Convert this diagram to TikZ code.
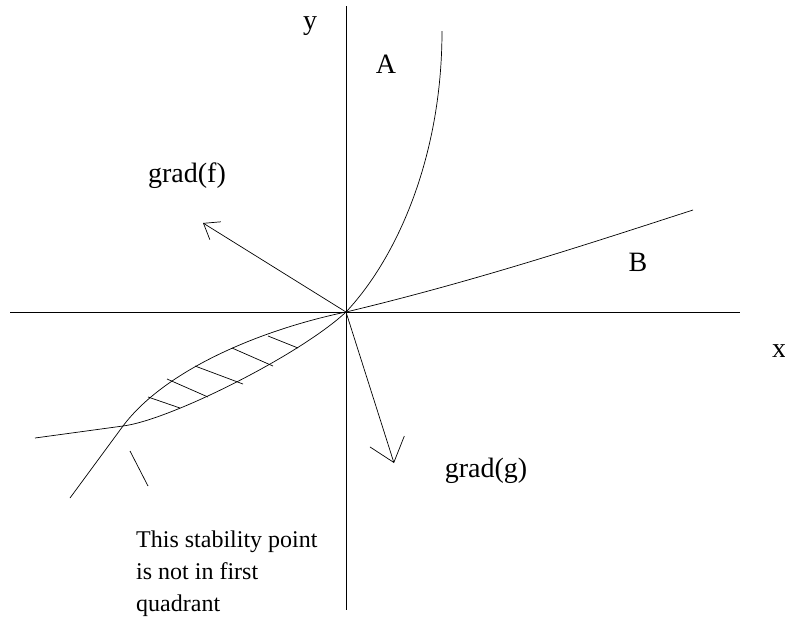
\documentclass[tikz,border=0pt]{standalone}
\usepackage{fontspec}
\setmainfont{Liberation Serif}
\usetikzlibrary{arrows.meta}
\tikzset{
  lbl/.style={font=\fontsize{28}{32}\selectfont, inner sep=0pt, anchor=base},
  para/.style={font=\fontsize{24}{32}\selectfont, inner sep=0pt, anchor=base west, align=left},
  crb/.style={line width=0.7pt},
  grd/.style={line width=0.7pt, -{Straight Barb[length=14pt,width=21pt,line width=0.7pt]}}
}
\begin{document}
\begin{tikzpicture}[x=1pt,y=-1pt]
				\useasboundingbox (0,0) rectangle (785,641);
				%Points du diagramme
				\coordinate (O) at (346,312);
				\coordinate (XL) at (10,312);
				\coordinate (XR) at (740,312);
				\coordinate (YT) at (346,6);
				\coordinate (YB) at (346,610);
				\coordinate (AT) at (442,31);
				\coordinate (BT) at (693,210);
				\coordinate (S) at (123,426);
				\coordinate (AE) at (70,498);
				\coordinate (BE) at (35,438);
				\coordinate (GF) at (203,223);
				\coordinate (GG) at (394,463);
				%Etiquettes
				\node[lbl] (ly) at (310,29) {y};
				\node[lbl] (lx) at (779,357) {x};
				\node[lbl] (lA) at (386,73) {A};
				\node[lbl] (lB) at (638,271) {B};
				\node[lbl] (lf) at (187,182) {grad(f)};
				\node[lbl] (lg) at (486,477) {grad(g)};
				\node[para] (txt) at (136,611)
					{This stability point\\is not in first\\quadrant};
				%Axes
				\draw[crb] (XL) -- (XR);
				\draw[crb] (YT) -- (YB);
				%Courbes
				\draw[crb] (O) .. controls (395,260) and (442,160) .. (AT);
				\draw[crb] (O) .. controls (480,280) and (600,240) .. (BT);
				\draw[crb] (O) .. controls (260,330) and (165,370) .. (S) -- (AE);
				\draw[crb] (O) .. controls (300,355) and (170,420) .. (S) -- (BE);
				%Hachures
				\draw[crb] (268,336) -- (298,348);
				\draw[crb] (232,348) -- (273,366);
				\draw[crb] (195,366) -- (243,384);
				\draw[crb] (167,379) -- (208,397);
				\draw[crb] (148,397) -- (180,408);
				\draw[crb] (130,451) -- (148,486);
				%Gradients
				\draw[grd] (O) -- (GF);
				\draw[grd, -{Straight Barb[length=22pt,width=36pt,line width=0.7pt]}] (O) -- (GG);
\end{tikzpicture}
\end{document}
